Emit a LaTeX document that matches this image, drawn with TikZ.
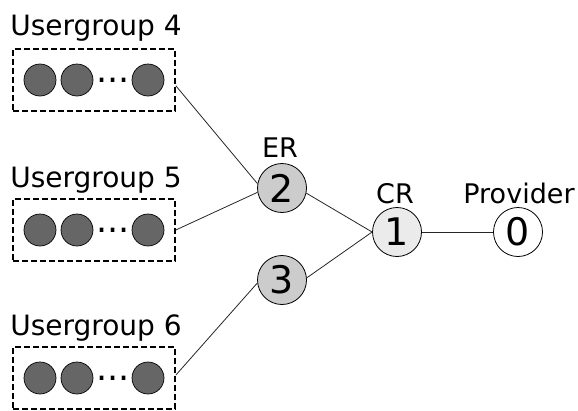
\documentclass[tikz,border=0pt]{standalone}
\usepackage{fontspec}
\setmainfont{DejaVu Sans}
\begin{document}
\begin{tikzpicture}[x=1pt,y=-1pt,
  grpbox/.style={draw, dash pattern=on 6pt off 3pt, line width=1.6pt, minimum width=162pt, minimum height=62pt, inner sep=0pt},
  user/.style={circle, draw, line width=0.7pt, fill=black!60, minimum size=32pt, inner sep=0pt},
  dotsnode/.style={inner sep=0pt, font=\fontsize{35}{40}\selectfont},
  grplabel/.style={anchor=base, inner sep=0pt, font=\fontsize{28}{34}\selectfont},
  rlabel/.style={anchor=base, inner sep=0pt, font=\fontsize{27}{32}\selectfont},
  router/.style={circle, draw, line width=0.8pt, minimum size=49pt, inner sep=0pt, font=\fontsize{38}{44}\selectfont},
  link/.style={line width=0.8pt, draw=black!85}
]
\useasboundingbox (0,0) rectangle (578,410);

% user groups
\foreach \g/\y/\ly in {4/80/35, 5/230/187, 6/378/335}{
  \node[grplabel] (lab\g) at (96,\ly) {Usergroup \g};
  \node[grpbox] (box\g) at (94,\y) {};
  \node[user] (u\g a) at (40,\y) {};
  \node[user] (u\g b) at (77,\y) {};
  \node[user] (u\g c) at (148,\y) {};
  \node[dotsnode] (d\g) at (113,\y) {...};
}

% routers
\node[router, fill=black!20] (n2) at (282,188) {2};
\node[router, fill=black!20] (n3) at (282,280) {3};
\node[router, fill=black!8] (n1) at (397,232) {1};
\node[router, fill=white] (n0) at (518,232) {0};

\node[rlabel] (er) at (280,157) {ER};
\node[rlabel] (cr) at (395,203) {CR};
\node[rlabel] (prov) at (519,203) {Provider};

% links
\draw[link] (box4.-4) -- (n2.170);
\draw[link] (box5.east) -- (n2.190);
\draw[link] (box6.2) -- (n3.187);
\draw[link] (n2.-12) -- (n1.west);
\draw[link] (n3.5) -- (n1.west);
\draw[link] (n1.east) -- (n0.west);
\end{tikzpicture}
\end{document}
